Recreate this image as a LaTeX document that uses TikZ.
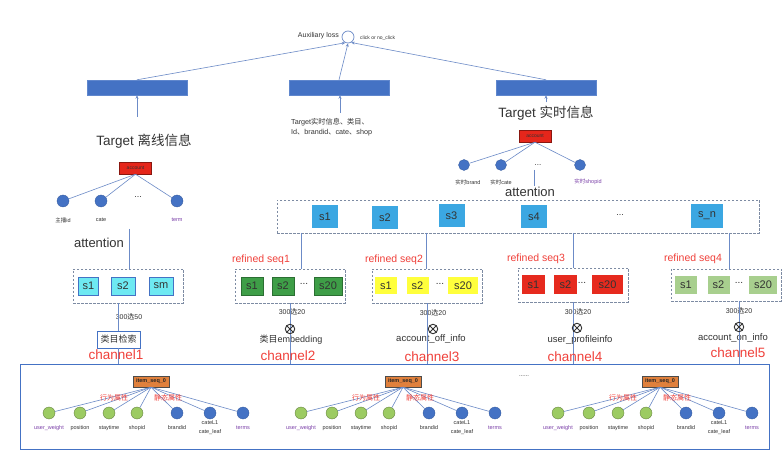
\documentclass[tikz,border=0pt]{standalone}
\usepackage{fontspec}
\setmainfont{Liberation Sans}
\newfontfamily\cjk{Noto Sans CJK SC}
\usetikzlibrary{arrows.meta}

\definecolor{barblue}{HTML}{4472C4}
\definecolor{wireblue}{HTML}{6C8BC7}
\definecolor{acctred}{HTML}{E5261B}
\definecolor{itemorange}{HTML}{E0803C}
\definecolor{leafgreen}{HTML}{9CCB62}
\definecolor{cellcyan}{HTML}{6EE9F2}
\definecolor{cellgreen}{HTML}{3E9E47}
\definecolor{cellyellow}{HTML}{FFFF3C}
\definecolor{cellred}{HTML}{E62A1E}
\definecolor{cellsage}{HTML}{A8CF8E}
\definecolor{cellsky}{HTML}{3BA7E2}
\definecolor{labelred}{HTML}{F0403A}
\definecolor{labelpurple}{HTML}{7A3FA8}
\definecolor{dashgray}{HTML}{7D8BA3}
\definecolor{txtgray}{HTML}{333333}

\newcommand{\fsz}[1]{\fontsize{#1}{#1}\selectfont}

\tikzset{
  wire/.style={draw=wireblue, line width=0.6pt},
  tip/.style={-{Stealth[length=3.5pt,width=3pt]}},
  bar/.style={fill=barblue, draw=barblue!85!white, minimum width=100pt, minimum height=15pt, inner sep=0pt},
  acct/.style={fill=acctred, draw=acctred!60!black, line width=0.4pt, minimum width=32pt, minimum height=12pt, inner sep=0pt, font=\fsz{5}, text=black!80},
  itembox/.style={fill=itemorange, draw=black!70, line width=0.4pt, minimum width=36pt, minimum height=11pt, inner sep=0pt, font=\fsz{5.5}\bfseries, text=black!85},
  bdot/.style={circle, fill=barblue, draw=barblue!80!black, line width=0.3pt, minimum size=12pt, inner sep=0pt},
  gdot/.style={circle, fill=leafgreen, draw=leafgreen!60!black, line width=0.3pt, minimum size=12pt, inner sep=0pt},
  tinytxt/.style={font=\fsz{5.5}, text=txtgray, inner sep=0pt},
  seqframe/.style={draw=dashgray, dash pattern=on 2.5pt off 1.5pt, line width=0.6pt, minimum width=110pt, minimum height=34pt, inner sep=0pt},
  cell/.style={minimum width=22pt, minimum height=18pt, inner sep=0pt, font=\fsz{11}, text=txtgray},
  redtxt/.style={text=labelred, inner sep=0pt},
  mixer/.style={circle, draw=txtgray, line width=0.9pt, minimum size=9.5pt, inner sep=0pt,
    path picture={\draw[txtgray, line width=0.9pt]
      (path picture bounding box.north west) -- (path picture bounding box.south east)
      (path picture bounding box.north east) -- (path picture bounding box.south west);}},
}

\begin{document}
\begin{tikzpicture}[x=1pt, y=-1pt]
  %%%%% START %%%%%
  \def\celly{286}
  \def\yitem{381.5}
  \def\ydot{413}
  \def\ylab{428}

  \fill[white] (0,0) rectangle (782,470);
  \useasboundingbox (0,0) rectangle (782,470);

  % loss and the three bars
  \node[circle, draw=wireblue, line width=0.7pt, minimum size=12pt, inner sep=0pt] (loss) at (348,37) {};
  \node[font=\fsz{7}, text=txtgray, anchor=east, inner sep=0pt] (auxtxt) at (339,36) {Auxiliary loss};
  \node[font=\fsz{5}, text=txtgray, anchor=west, inner sep=0pt] (clicktxt) at (360,38) {click or no\_click};

  \node[bar] (barL) at (137,87.5) {};
  \node[bar] (barM) at (339,87.5) {};
  \node[bar] (barR) at (546,87.5) {};

  \draw[wire, tip] (barL.north) -- (loss.-115);
  \draw[wire, tip] (barM.north) -- (loss.south);
  \draw[wire, tip] (barR.north) -- (loss.-60);

  \coordinate (inL) at (137,117);
  \coordinate (inM) at (340,113);
  \draw[wire, tip] (inL) -- (inL |- barL.south);
  \draw[wire, tip] (inM) -- (inM |- barM.south);

  \node[font=\fsz{13.5}, text=txtgray] (tgtL) at (144,141) {Target {\cjk 离线信息}};
  \node[font=\fontsize{7.2}{10.5}\selectfont, text=txtgray, align=left, anchor=north west, inner sep=0pt] (tgtM) at (291,118)
    {Target{\cjk 实时信息、类目、}\\Id{\cjk 、}brandid{\cjk 、}cate{\cjk 、}shop};
  \node[font=\fsz{13.5}, text=txtgray] (tgtR) at (546,113) {Target {\cjk 实时信息}};
  \draw[wire, tip] (tgtR.north) -- (barR.south);

  % offline target tree
  \node[acct] (acctL) at (135.5,168) {account};
  \node[bdot] (oL1) at (63,201) {};
  \node[bdot] (oL2) at (101,201) {};
  \node[bdot] (oL3) at (177,201) {};
  \node[font=\fsz{9}, text=txtgray] (oLdots) at (138,197) {...};
  \foreach \n in {oL1,oL2,oL3} \draw[wire] (acctL.south) -- (\n);
  \node[tinytxt] at (63,220) {{\cjk 主播}id};
  \node[tinytxt] at (101,220) {cate};
  \node[tinytxt, text=labelpurple] at (177,220) {term};
  \node[font=\fsz{13}, text=txtgray] (attL) at (99,243) {attention};

  % realtime target tree
  \node[acct] (acctR) at (535,136) {account};
  \node[bdot, minimum size=11pt] (oR1) at (464,165) {};
  \node[bdot, minimum size=11pt] (oR2) at (501,165) {};
  \node[bdot, minimum size=11pt] (oR3) at (580,165) {};
  \node[font=\fsz{8}, text=txtgray] (oRdots) at (538,165) {...};
  \foreach \n in {oR1,oR2,oR3} \draw[wire] (acctR.south) -- (\n);
  \node[tinytxt] at (468,182) {{\cjk 实时}brand};
  \node[tinytxt] at (501,182) {{\cjk 实时}cate};
  \node[tinytxt, text=labelpurple] at (588,182) {{\cjk 实时}shopid};
  \node[font=\fsz{13}, text=txtgray] (attR) at (530,192) {attention};
  \coordinate (attRtop) at (534,170);
  \draw[wire] (attRtop) -- (534,186);

  % attention sequence
  \node[seqframe, minimum width=482pt, minimum height=33pt] (attn) at (518,216.5) {};
  \node[cell, fill=cellsky, minimum width=26pt, minimum height=23pt] (t1) at (325,216.5) {s1};
  \node[cell, fill=cellsky, minimum width=26pt, minimum height=23pt] (t2) at (385,218) {s2};
  \node[cell, fill=cellsky, minimum width=26pt, minimum height=23pt] (t3) at (451.5,216) {s3};
  \node[cell, fill=cellsky, minimum width=26pt, minimum height=23pt] (t4) at (534,217) {s4};
  \node[font=\fsz{9}, text=txtgray] (tdots) at (620,215) {...};
  \node[cell, fill=cellsky, minimum width=32pt, minimum height=24pt] (tn) at (707,216) {s\_n};

  % channel 1
  \node[seqframe] (seqA) at (128,286) {};
  \node[cell, fill=cellcyan, draw=barblue, minimum width=20pt] (a1) at (88.5,\celly) {s1};
  \node[cell, fill=cellcyan, draw=barblue, minimum width=24pt] (a2) at (123,\celly) {s2};
  \node[cell, fill=cellcyan, draw=barblue, minimum width=24pt] (am) at (161,\celly) {sm};
  \coordinate (attLfoot) at (129,229);
  \draw[wire] (attLfoot) -- (attLfoot |- seqA.north);
  \node[draw=barblue, fill=white, line width=0.6pt, minimum width=43pt, minimum height=17pt, inner sep=0pt, font=\fsz{9}, text=txtgray] (qry) at (118.5,339.5) {\cjk 类目检索};
  \node[font=\fsz{7}, text=txtgray, inner sep=0pt] (pickA) at (129,317) {300{\cjk 选}50};

  % channel 2
  \node[seqframe] (seqB) at (290,286) {};
  \node[cell, fill=cellgreen, draw=cellgreen!70!black, line width=0.3pt] (b1) at (252,\celly) {s1};
  \node[cell, fill=cellgreen, draw=cellgreen!70!black, line width=0.3pt] (b2) at (283,\celly) {s2};
  \node[font=\fsz{10}, text=txtgray] (bdots) at (304,284) {...};
  \node[cell, fill=cellgreen, draw=cellgreen!70!black, line width=0.3pt, minimum width=28pt] (b20) at (328,\celly) {s20};
  \node[redtxt, font=\fsz{10.5}] (refB) at (261,260) {refined seq1};
  \node[font=\fsz{7}, text=txtgray, inner sep=0pt] (pickB) at (292,312) {300{\cjk 选}20};
  \node[font=\fsz{9}, text=txtgray, inner sep=0pt] (embB) at (291,340) {{\cjk 类目}embedding};

  % channel 3
  \node[seqframe] (seqC) at (427,286) {};
  \node[cell, fill=cellyellow, minimum height=17pt] (c1) at (386,\celly) {s1};
  \node[cell, fill=cellyellow, minimum height=17pt] (c2) at (417.5,\celly) {s2};
  \node[font=\fsz{10}, text=txtgray] (cdots) at (440,284) {...};
  \node[cell, fill=cellyellow, minimum height=17pt, minimum width=30pt] (c20) at (463,\celly) {s20};
  \node[redtxt, font=\fsz{10.5}] (refC) at (394,260) {refined seq2};
  \node[font=\fsz{7}, text=txtgray, inner sep=0pt] (pickC) at (433,313) {300{\cjk 选}20};
  \node[font=\fsz{9.5}, text=txtgray, inner sep=0pt] (embC) at (431,339) {account\_off\_info};

  % channel 4
  \node[seqframe] (seqD) at (573,285) {};
  \node[cell, fill=cellred, minimum width=23pt, minimum height=19pt] (d1) at (533.5,285) {s1};
  \node[cell, fill=cellred, minimum width=23pt, minimum height=19pt] (d2) at (565.5,285) {s2};
  \node[font=\fsz{10}, text=txtgray] (ddots) at (582,283) {...};
  \node[cell, fill=cellred, minimum width=31pt, minimum height=19pt] (d20) at (607.5,285) {s20};
  \node[redtxt, font=\fsz{10.5}] (refD) at (536,259) {refined seq3};
  \node[font=\fsz{7}, text=txtgray, inner sep=0pt] (pickD) at (578,312) {300{\cjk 选}20};
  \node[font=\fsz{9.5}, text=txtgray, inner sep=0pt] (embD) at (580,340) {user\_profileinfo};

  % channel 5
  \node[seqframe, minimum height=32pt] (seqE) at (726,285) {};
  \node[cell, fill=cellsage] (e1) at (686,285) {s1};
  \node[cell, fill=cellsage] (e2) at (718.5,285) {s2};
  \node[font=\fsz{10}, text=txtgray] (edots) at (739,283) {...};
  \node[cell, fill=cellsage, minimum width=28pt] (e20) at (763,285) {s20};
  \node[redtxt, font=\fsz{10.5}] (refE) at (693,259) {refined seq4};
  \node[font=\fsz{7}, text=txtgray, inner sep=0pt] (pickE) at (739,311) {300{\cjk 选}20};
  \node[font=\fsz{9.5}, text=txtgray, inner sep=0pt] (embE) at (733,338) {account\_on\_info};

  % item pool
  \node[draw=barblue, line width=1pt, minimum width=749pt, minimum height=84pt, inner sep=0pt] (pool) at (394.5,407) {};
  \node[font=\fsz{6}, text=txtgray] (more) at (524,376) {......};

  % taps from the attention frame
  \coordinate (tapB) at (301,233);
  \coordinate (tapC) at (426,233);
  \coordinate (tapD) at (573,233);
  \coordinate (tapE) at (729,233);
  \draw[wire] (tapB) -- (tapB |- seqB.north);
  \draw[wire] (tapC) -- (tapC |- seqC.north);
  \draw[wire] (tapD) -- (tapD |- seqD.north);
  \draw[wire] (tapE) -- (tapE |- seqE.north);

  % channel stems down to the pool
  \draw[wire] (qry.north |- seqA.south) -- (qry.north);
  \draw[wire] (qry.south) -- (qry.south |- pool.north);
  \draw[wire] (seqB.south) -- (seqB.south |- pool.north);
  \draw[wire] (seqC.south) -- (seqC.south |- pool.north);
  \draw[wire] (seqD.south) -- (seqD.south |- pool.north);
  \coordinate (stemE) at (739,301);
  \draw[wire] (stemE) -- (stemE |- pool.north);

  \node[mixer] (oxB) at (290,329) {};
  \node[mixer] (oxC) at (433,329) {};
  \node[mixer] (oxD) at (577,328) {};
  \node[mixer] (oxE) at (739,327) {};

  \node[redtxt, font=\fsz{13.5}] (ch1) at (116,355) {channel1};
  \node[redtxt, font=\fsz{13.5}] (ch2) at (288,356) {channel2};
  \node[redtxt, font=\fsz{13.5}] (ch3) at (432,357) {channel3};
  \node[redtxt, font=\fsz{13.5}] (ch4) at (575,357) {channel4};
  \node[redtxt, font=\fsz{13.5}] (ch5) at (738,353) {channel5};

  % three item trees
  \foreach \cx/\k in {151/1,403/2,660/3}{
    \node[itembox] (item\k) at (\cx,\yitem) {item\_seq\_0};
    \node[gdot] (it\k a) at (\cx-102,\ydot) {};
    \node[gdot] (it\k b) at (\cx-71,\ydot) {};
    \node[gdot] (it\k c) at (\cx-42,\ydot) {};
    \node[gdot] (it\k d) at (\cx-14,\ydot) {};
    \node[bdot] (it\k e) at (\cx+26,\ydot) {};
    \node[bdot] (it\k f) at (\cx+59,\ydot) {};
    \node[bdot] (it\k g) at (\cx+92,\ydot) {};
    \foreach \n in {a,b,c,d,e,f,g} \draw[wire] (item\k.south) -- (it\k\n);
    \node[redtxt, font=\fsz{7}] at (\cx-37,398) {\cjk 行为属性};
    \node[redtxt, font=\fsz{7}] at (\cx+17,398) {\cjk 静态属性};
    \node[tinytxt, text=labelpurple] at (\cx-102,\ylab) {user\_weight};
    \node[tinytxt] at (\cx-71,\ylab) {position};
    \node[tinytxt] at (\cx-42,\ylab) {staytime};
    \node[tinytxt] at (\cx-14,\ylab) {shopid};
    \node[tinytxt] at (\cx+26,\ylab) {brandid};
    \node[tinytxt, align=center, font=\fontsize{5.5}{9}\selectfont] at (\cx+59,\ylab) {cateL1\\cate\_leaf};
    \node[tinytxt, text=labelpurple] at (\cx+92,\ylab) {terms};
  }
  %%%%% END %%%%%
\end{tikzpicture}
\end{document}
